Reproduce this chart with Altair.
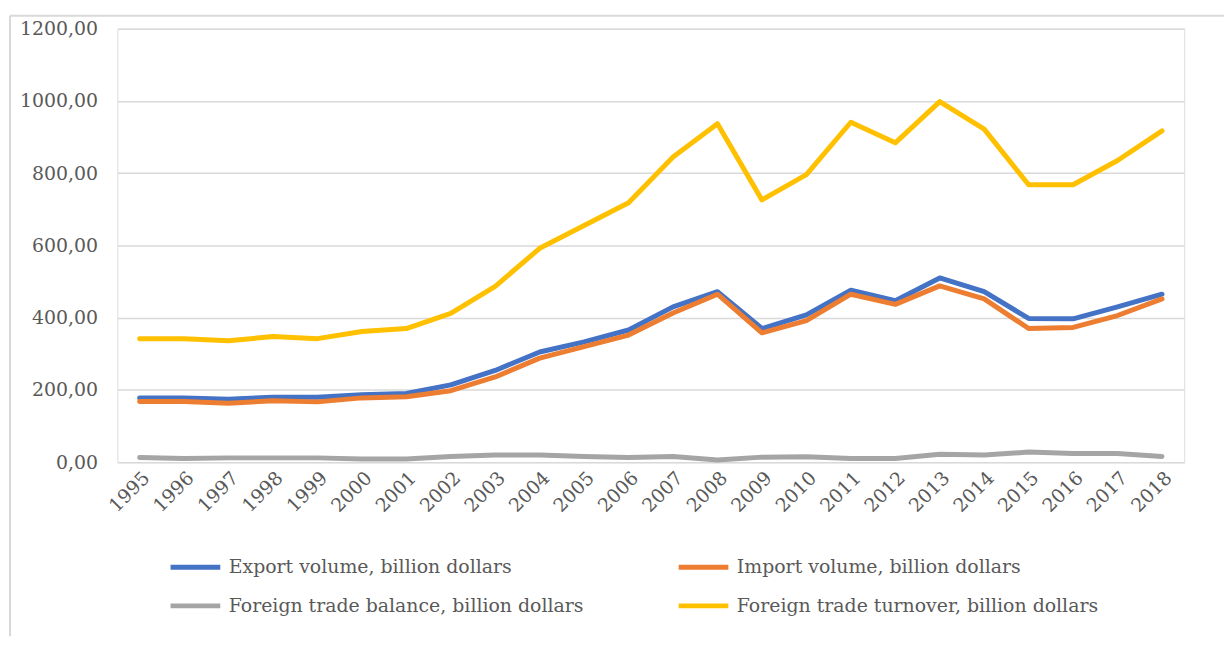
import altair as alt
import pandas as pd

years = [str(y) for y in range(1995, 2019)]
export_vol = [178, 178, 174, 180, 180, 187, 190, 214, 254, 305, 333, 366, 430, 472, 370, 408, 476, 447, 510, 472, 398, 397, 430, 465]
import_vol = [168, 168, 163, 170, 167, 178, 181, 198, 236, 288, 320, 352, 413, 465, 358, 392, 465, 437, 488, 452, 370, 373, 406, 452]
balance = [13, 10, 12, 12, 12, 9, 9, 16, 20, 20, 16, 13, 16, 6, 14, 15, 10, 10, 22, 20, 28, 24, 24, 16]
turnover = [342, 342, 336, 348, 342, 362, 370, 412, 487, 592, 655, 718, 845, 937, 726, 796, 941, 884, 998, 922, 768, 768, 835, 917]

series_names = [
    "Export volume, billion dollars",
    "Import volume, billion dollars",
    "Foreign trade balance, billion dollars",
    "Foreign trade turnover, billion dollars",
]
series_colors = ["#4472C4", "#ED7D31", "#A5A5A5", "#FFC000"]
y_ticks = [0, 200, 400, 600, 800, 1000, 1200]

rows = []
for i, (name, vals) in enumerate(zip(series_names, [export_vol, import_vol, balance, turnover])):
    for y, v in zip(years, vals):
        rows.append({"Year": y, "Value": v, "Series": name, "order": i})
df = pd.DataFrame(rows)

FONT = "DejaVu Serif"
W, H = 1073, 436

lines = alt.Chart(df).mark_line(strokeWidth=5, strokeCap="round", strokeJoin="round").encode(
    x=alt.X("Year:O", sort=years, title=None,
            scale=alt.Scale(type="point", padding=0.5),
            axis=alt.Axis(labelAngle=-45, labelFont=FONT, labelFontSize=19,
                          labelColor="#595959", ticks=False, domain=False,
                          labelPadding=6, grid=False)),
    y=alt.Y("Value:Q", title=None,
            scale=alt.Scale(domain=[0, 1200], nice=False),
            axis=alt.Axis(values=y_ticks, labelFont=FONT, labelFontSize=19,
                          labelColor="#595959", ticks=False, domain=False,
                          gridColor="#D9D9D9", gridWidth=1.5, labelPadding=20,
                          labelExpr="replace(format(datum.value, '.2f'), '.', ',')")),
    color=alt.Color("Series:N", sort=series_names,
                    scale=alt.Scale(domain=series_names, range=series_colors),
                    legend=alt.Legend(title=None, orient="none", legendX=51, legendY=514,
                                      direction="horizontal",
                                      columns=2, columnPadding=84, rowPadding=1,
                                      symbolType="stroke", symbolSize=2500,
                                      symbolStrokeWidth=5, labelFont=FONT,
                                      labelFontSize=19, labelColor="#595959",
                                      labelOffset=6, labelLimit=600)),
    order=alt.Order("order:Q"),
)

border_top = alt.Chart(pd.DataFrame({"a": [0]})).mark_rule(color="#D9D9D9", strokeWidth=2).encode(
    x=alt.value(-108), x2=alt.value(1140), y=alt.value(-13)
)
border_left = alt.Chart(pd.DataFrame({"a": [0]})).mark_rule(color="#D9D9D9", strokeWidth=2).encode(
    x=alt.value(-108), y=alt.value(-13), y2=alt.value(H + 175)
)

chart = alt.layer(border_top, border_left, lines).properties(
    width=W, height=H,
    autosize=alt.AutoSizeParams(type="none"),
    padding={"left": 110, "top": 19, "right": 40, "bottom": 175},
).configure_view(stroke="transparent", strokeWidth=0).configure(background="white", font=FONT)

chart.save("out.html", embed_options={"renderer": "svg", "actions": False})
